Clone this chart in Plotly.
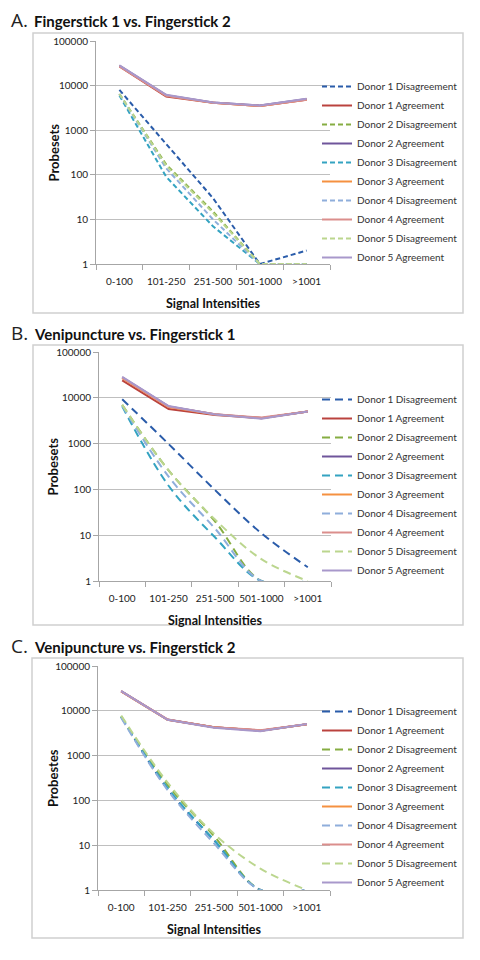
import plotly.graph_objects as go

categories = ["0-100", "101-250", "251-500", "501-1000", ">1001"]
donors = ["Donor 1", "Donor 2", "Donor 3", "Donor 4", "Donor 5"]
y_tick_vals = [1, 10, 100, 1000, 10000, 100000]
y_tick_text = ["1", "10", "100", "1000", "10000", "100000"]

# Panel A: Fingerstick 1 vs. Fingerstick 2
a_disagreement = [
    [8000, 500, 30, 1, 2],
    [6500, 170, 15, 1, 1],
    [6000, 90, 7, 1, 1],
    [6500, 140, 10, 1, 1],
    [6500, 160, 14, 1, 1],
]
a_agreement = [
    [27000, 5700, 4100, 3500, 4800],
    [28000, 6100, 4200, 3600, 5000],
    [27500, 6000, 4100, 3500, 4900],
    [27000, 5900, 4100, 3500, 4800],
    [28500, 6200, 4200, 3600, 5100],
]

# Panel B: Venipuncture vs. Fingerstick 1
b_disagreement = [
    [9300, 980, 97, 11, 2],
    [7000, 260, 20, 1, 1],
    [6500, 120, 9, 1, 1],
    [6800, 190, 14, 1, 1],
    [7000, 260, 22, 3, 1],
]
b_agreement = [
    [24000, 5700, 4200, 3600, 5000],
    [28000, 6500, 4400, 3600, 5000],
    [27000, 6300, 4300, 3600, 5000],
    [27500, 6400, 4400, 3700, 5000],
    [28500, 6600, 4300, 3500, 5000],
]

# Panel C: Venipuncture vs. Fingerstick 2
c_disagreement = [
    [7500, 180, 13, 1, 1],
    [7500, 220, 16, 1, 1],
    [7300, 190, 13, 1, 1],
    [7000, 170, 11, 1, 1],
    [7800, 250, 18, 3, 1],
]
c_agreement = [
    [27000, 6300, 4300, 3600, 5000],
    [27500, 6400, 4300, 3600, 5000],
    [27000, 6300, 4300, 3600, 5000],
    [27000, 6400, 4300, 3700, 5000],
    [27500, 6300, 4200, 3500, 5100],
]

panel_titles = ["Fingerstick 1 vs. Fingerstick 2",
                "Venipuncture vs. Fingerstick 1",
                "Venipuncture vs. Fingerstick 2"]
panel_letters = ["A.", "B.", "C."]
y_titles = ["Probesets", "Probesets", "Probestes"]
x_title = "Signal Intensities"

dis_colors = ["#2A5CAA", "#86AD42", "#34A3C1", "#8FAEDB", "#BBD68E"]
agr_colors = ["#BA423E", "#6F559B", "#F59140", "#DB8E8C", "#A898CB"]

FONT = "Lato"
# figure sits inside the page's default 8px body margin
OFF = 8
W, H = 480 - 2 * OFF, 960 - 2 * OFF


def px(x):
    return (x - OFF) / W


def py(y):
    return 1 - (y - OFF) / H


# screen-pixel layout for each panel (plot area left, right, top(100000), bottom(1))
panels = [
    dict(dis=a_disagreement, agr=a_agreement, x0=96, x1=330, yt=41, yb=264,
         frame=(33, 33, 463, 313), title_y=20, legend_mid=172, dash="5px,3px", shape="linear"),
    dict(dis=b_disagreement, agr=b_agreement, x0=99, x1=331, yt=352, yb=581,
         frame=(33, 345, 463, 625), title_y=333, legend_mid=485, dash="8px,5px", shape="spline"),
    dict(dis=c_disagreement, agr=c_agreement, x0=98, x1=330, yt=666, yb=890,
         frame=(32, 658, 463, 938), title_y=646, legend_mid=797, dash="8px,5px", shape="spline"),
]

fig = go.Figure()
layout = dict(width=W, height=H, margin=dict(l=0, r=0, t=0, b=0, autoexpand=False),
              paper_bgcolor="white", plot_bgcolor="white",
              font=dict(family=FONT, size=10, color="#222"))
shapes = []
annotations = []

for i, p in enumerate(panels):
    n = "" if i == 0 else str(i + 1)
    xa, ya = "x" + n, "y" + n
    legend_name = "legend" + n
    for d in range(5):
        fig.add_trace(go.Scatter(
            x=categories, y=p["dis"][d], mode="lines",
            name=donors[d] + " Disagreement", xaxis=xa, yaxis=ya, legend=legend_name,
            line=dict(color=dis_colors[d], width=2, dash=p["dash"], shape=p["shape"]),
            hoverinfo="skip"))
        fig.add_trace(go.Scatter(
            x=categories, y=p["agr"][d], mode="lines",
            name=donors[d] + " Agreement", xaxis=xa, yaxis=ya, legend=legend_name,
            line=dict(color=agr_colors[d], width=2),
            hoverinfo="skip"))

    layout["xaxis" + n] = dict(
        domain=[px(p["x0"]), px(p["x1"])], anchor=ya,
        type="category", range=[-0.5, 4.5], tickson="boundaries",
        ticks="outside", ticklen=5, ticklabelstandoff=8, tickangle=0,
        tickcolor="#A6A6A6", showline=True, linecolor="#A6A6A6", linewidth=1,
        showgrid=False, tickfont=dict(family=FONT, size=10, color="#222"),
        automargin=False, fixedrange=True)
    layout["yaxis" + n] = dict(
        domain=[py(p["yb"]), py(p["yt"])], anchor=xa,
        type="log", range=[0, 5], tickvals=y_tick_vals, ticktext=y_tick_text,
        ticks="outside", ticklen=5, tickcolor="#A6A6A6",
        showline=True, linecolor="#A6A6A6", linewidth=1,
        showgrid=True, gridcolor="#BFBFBF", gridwidth=1,
        tickfont=dict(family=FONT, size=10, color="#222"),
        automargin=False, fixedrange=True)
    layout[legend_name] = dict(
        x=px(317), xanchor="left", y=py(p["legend_mid"]), yanchor="middle",
        bgcolor="rgba(0,0,0,0)", font=dict(family=FONT, size=10, color="#333"),
        tracegroupgap=0, itemwidth=30)

    fx0, fy0, fx1, fy1 = p["frame"]
    shapes.append(dict(type="rect", xref="paper", yref="paper",
                       x0=px(fx0), x1=px(fx1), y0=py(fy1), y1=py(fy0),
                       line=dict(color="#D0D0D0", width=1.5), fillcolor="rgba(0,0,0,0)",
                       layer="below"))
    # panel title
    annotations.append(dict(xref="paper", yref="paper", x=px(9), y=py(p["title_y"]),
                            xanchor="left", yanchor="middle", showarrow=False,
                            text=panel_letters[i],
                            font=dict(family="Open Sans", size=19, color="#222")))
    annotations.append(dict(xref="paper", yref="paper", x=px(32), y=py(p["title_y"] + 1),
                            xanchor="left", yanchor="middle", showarrow=False,
                            text="<b>" + panel_titles[i] + "</b>",
                            font=dict(family=FONT, size=15, color="#111")))
    # axis titles
    annotations.append(dict(xref="paper", yref="paper", x=px(53),
                            y=py((p["yt"] + p["yb"]) / 2),
                            xanchor="center", yanchor="middle", showarrow=False,
                            textangle=-90, text="<b>" + y_titles[i] + "</b>",
                            font=dict(family=FONT, size=13, color="#111")))
    annotations.append(dict(xref="paper", yref="paper", x=px((p["x0"] + p["x1"]) / 2),
                            y=py(p["yb"] + 39),
                            xanchor="center", yanchor="middle", showarrow=False,
                            text="<b>" + x_title + "</b>",
                            font=dict(family=FONT, size=12.5, color="#111")))

layout["shapes"] = shapes
layout["annotations"] = annotations
fig.update_layout(**layout)

fig.write_html("out.html")
